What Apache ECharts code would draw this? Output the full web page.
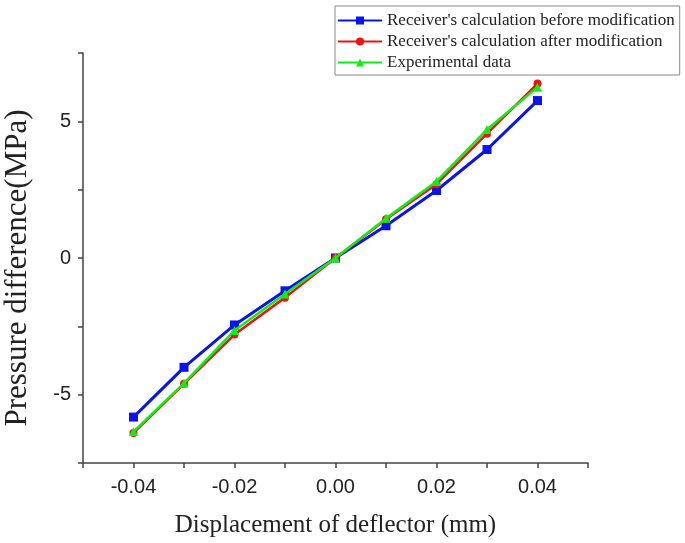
<!DOCTYPE html>
<html>
<head>
<meta charset="utf-8">
<script src="https://cdn.jsdelivr.net/npm/echarts@6/dist/echarts.min.js"></script>
<style>html,body{margin:0;padding:0;background:#fff;}#c{width:685px;height:543px;}</style>
</head>
<body>
<div id="c"></div>
<script>
var displacement = [-0.04, -0.03, -0.02, -0.01, 0, 0.01, 0.02, 0.03, 0.04];
var beforeMod = [-5.82, -4.0, -2.45, -1.2, 0, 1.18, 2.47, 3.97, 5.76];
var afterMod = [-6.4, -4.6, -2.8, -1.45, 0, 1.42, 2.7, 4.55, 6.38];
var experimental = [-6.35, -4.58, -2.65, -1.32, 0, 1.45, 2.8, 4.7, 6.25];
var seriesNames = ["Receiver's calculation before modification", "Receiver's calculation after modification", "Experimental data"];
var xLabels = ['-0.04', '-0.02', '0.00', '0.02', '0.04'];
var yLabels = ['-5', '0', '5'];

function pairs(vals) { return displacement.map(function (x, i) { return [x, vals[i]]; }); }

var chart = echarts.init(document.getElementById('c'), null, {renderer: 'canvas'});
chart.setOption({
  backgroundColor: '#fff',
  animation: false,
  grid: {left: 83, right: 97, top: 53, bottom: 80, containLabel: false, outerBoundsMode: 'none'},
  legend: {
    orient: 'vertical', left: 335, top: 6,
    data: seriesNames,
    itemWidth: 44, itemHeight: 10, itemGap: 0,
    padding: [4, 5, 2, 2],
    borderColor: '#888', borderWidth: 1,
    textStyle: {fontFamily: 'Liberation Serif', fontSize: 17, color: '#222', lineHeight: 21}
  },
  xAxis: {
    type: 'value', min: -0.05, max: 0.05, interval: 0.01,
    name: 'Displacement of deflector (mm)', nameLocation: 'middle', nameGap: 50,
    nameTextStyle: {fontFamily: 'Liberation Serif', fontSize: 25, color: '#222'},
    axisLine: {show: true, onZero: false, lineStyle: {color: '#444', width: 1.5}},
    axisTick: {show: true, length: 5, lineStyle: {color: '#444', width: 1.5}},
    splitLine: {show: false},
    axisLabel: {
      margin: 14, fontFamily: 'Liberation Sans', fontSize: 20, color: '#222',
      formatter: function (v) {
        var s = v.toFixed(2);
        if (s === '-0.00') s = '0.00';
        return xLabels.indexOf(s) >= 0 ? s : '';
      }
    }
  },
  yAxis: {
    type: 'value', min: -7.5, max: 7.5, interval: 2.5,
    name: 'Pressure difference(MPa)', nameLocation: 'middle', nameGap: 50,
    nameTextStyle: {fontFamily: 'Liberation Serif', fontSize: 31, color: '#222', padding: [0, 20, 0, 0]},
    axisLine: {show: true, onZero: false, lineStyle: {color: '#444', width: 1.5}},
    axisTick: {show: true, length: 5, lineStyle: {color: '#444', width: 1.5}},
    splitLine: {show: false},
    axisLabel: {
      margin: 12, fontFamily: 'Liberation Sans', fontSize: 20, color: '#222',
      formatter: function (v) {
        var s = String(Math.round(v * 10) / 10);
        return yLabels.indexOf(s) >= 0 ? s : '';
      }
    }
  },
  series: [
    {name: seriesNames[0], type: 'line', data: pairs(beforeMod), symbol: 'rect', symbolSize: 9,
     itemStyle: {color: '#0a14f0'}, lineStyle: {color: '#0a14f0', width: 3}, z: 2},
    {name: seriesNames[1], type: 'line', data: pairs(afterMod), symbol: 'circle', symbolSize: 8,
     itemStyle: {color: '#f01010'}, lineStyle: {color: '#f01010', width: 2.5}, z: 3},
    {name: seriesNames[2], type: 'line', data: pairs(experimental), symbol: 'triangle', symbolSize: 9,
     itemStyle: {color: '#10f010'}, lineStyle: {color: '#10f010', width: 2.5}, z: 4}
  ]
});
</script>
</body>
</html>
